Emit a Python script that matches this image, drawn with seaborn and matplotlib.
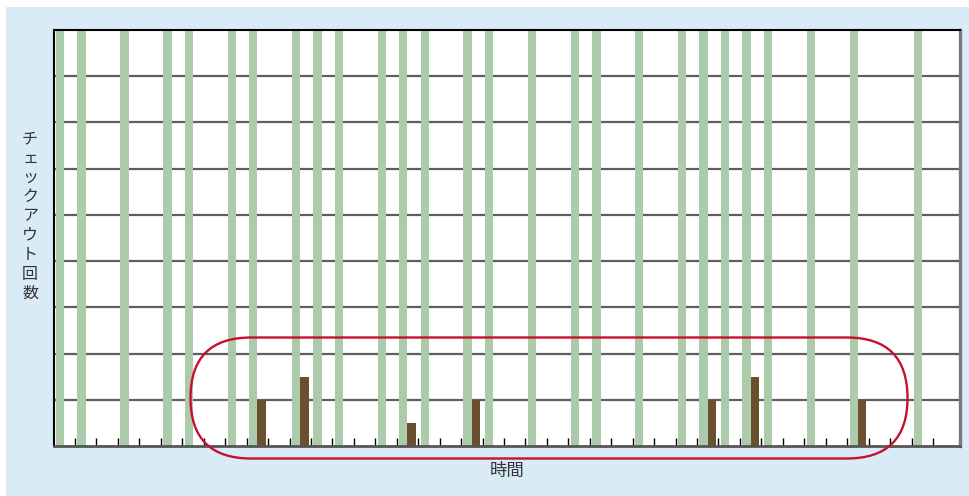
import matplotlib
matplotlib.use("Agg")
import matplotlib.pyplot as plt
from matplotlib.patches import Rectangle, FancyBboxPatch
import seaborn as sns
import pandas as pd

# Time slots on the x axis
slots = list(range(42))
# Slots highlighted by a full-height green band
band_slots = [0, 1, 3, 5, 6, 8, 9, 11, 12, 13, 15, 16, 17, 19, 20, 22, 24, 25,
              27, 29, 30, 31, 32, 33, 35, 37, 40]
band_level = 18
# Checkout counts per slot
checkout_slots = [9, 11, 16, 19, 30, 32, 37]
checkout_counts = [2, 3, 1, 2, 2, 3, 2]

y_max = 18
grid_step = 2

sns.set_theme(style="white")
plt.rcParams["font.family"] = ["Noto Sans CJK JP", "DejaVu Sans"]

green = "#abcbab"
brown = "#6b502d"
blue_bg = "#daebf8"
red = "#c8102e"
text_col = "#333333"

counts = dict(zip(checkout_slots, checkout_counts))
rows = []
for s in slots:
    rows.append({"slot": s, "series": "band", "value": band_level if s in band_slots else 0})
    rows.append({"slot": s, "series": "checkout", "value": counts.get(s, 0)})
df = pd.DataFrame(rows)

W, H = 969, 496
fig = plt.figure(figsize=(W / 100, H / 100), dpi=100, facecolor="white")
fig.patches.append(Rectangle((6 / W, 0), (W - 6) / W, (H - 7) / H,
                             transform=fig.transFigure, facecolor=blue_bg,
                             edgecolor="none", zorder=-10))

left, right, top, bottom = 53.6, 960, 30, 446
ax = fig.add_axes([left / W, (H - bottom) / H, (right - left) / W, (bottom - top) / H])
ax.set_facecolor("white")

sns.barplot(data=df, x="slot", y="value", hue="series",
            hue_order=["band", "checkout"], palette=[green, brown],
            width=0.78, dodge=True, saturation=1, legend=False,
            linewidth=0, ax=ax)

ax.set_xlim(-0.5, 41.76)
ax.set_ylim(0, y_max)
ax.set_yticks(range(grid_step, y_max, grid_step))
ax.set_yticklabels([])
ax.tick_params(axis="y", length=0)
ax.set_axisbelow(True)
ax.yaxis.grid(True, color="#5e5e5e", linewidth=1.6)
ax.xaxis.grid(False)

ax.set_xticks([i + 0.5 for i in slots[:41]])
ax.set_xticklabels([])
ax.tick_params(axis="x", direction="in", length=5.5, width=1, color="black",
               bottom=True)

for side in ("left", "top"):
    ax.spines[side].set_color("black")
    ax.spines[side].set_linewidth(1.5)
ax.spines["right"].set_color("#7a7a7a")
ax.spines["right"].set_linewidth(2.4)
ax.spines["bottom"].set_color("#555555")
ax.spines["bottom"].set_linewidth(2)
for sp in ax.spines.values():
    sp.set_zorder(5)

ax.set_xlabel("")
ax.set_ylabel("")

# Pixel-space overlay for labels and the highlight outline
ov = fig.add_axes([0, 0, 1, 1], facecolor="none")
ov.set_xlim(0, W)
ov.set_ylim(H, 0)
ov.axis("off")

ov.text(30, 216, "\n".join("チェックアウト回数"), ha="center", va="center",
        fontsize=11.5, color=text_col, linespacing=1.18)
ov.text(507, 471, "時間", ha="center", va="center", fontsize=12.5, color=text_col)

ov.add_patch(FancyBboxPatch((190.5, 337.5), 717, 121,
                            boxstyle="round,pad=0,rounding_size=60.5",
                            facecolor="none", edgecolor=red, linewidth=1.7))

fig.savefig("out.png", dpi=100, facecolor="white")
